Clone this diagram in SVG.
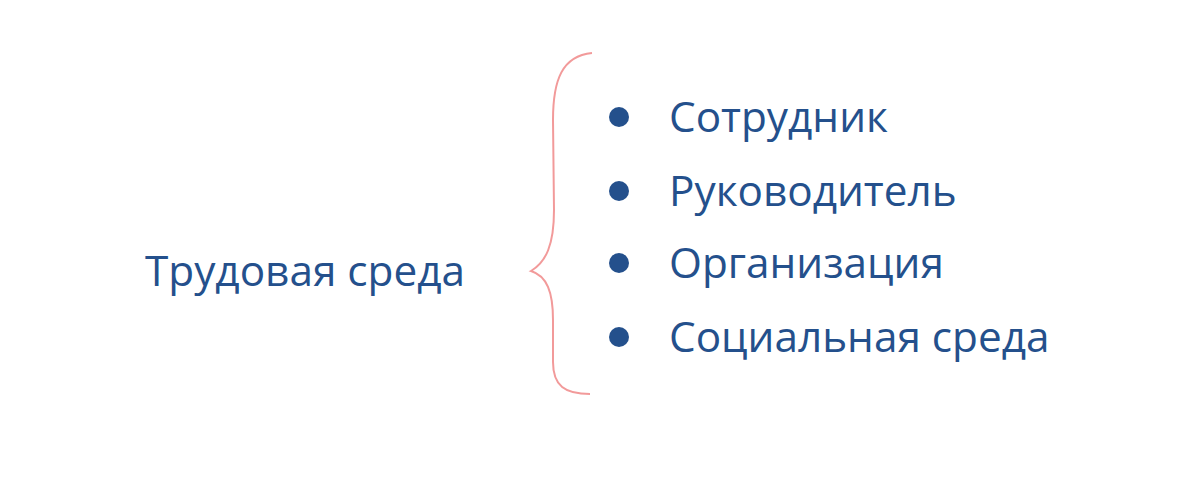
<svg xmlns="http://www.w3.org/2000/svg" width="1200" height="484" viewBox="0 0 1200 484">
<style>
  text { font-family: "Open Sans", "Noto Sans", sans-serif; font-size: 42.3px; fill: #24508c; }
  .dot { fill: #24508c; }
  .brace { fill: none; stroke: #f29a9a; stroke-width: 2; }
</style>
<rect width="1200" height="484" fill="#ffffff"/>
<g id="root">
  <text x="145" y="286">Трудовая среда</text>
</g>
<g id="connectors">
  <path class="brace" d="M592,53 C562,56 553,80 553,120 L554,210 C554,245 546,262 531,271 C547,276 553,292 553,320 L553,362 C553,386 565,394 590,394"/>
</g>
<g id="item1">
  <circle class="dot" cx="619" cy="117" r="10"/>
  <text x="669" y="132">Сотрудник</text>
</g>
<g id="item2">
  <circle class="dot" cx="619" cy="191" r="10"/>
  <text x="669" y="206">Руководитель</text>
</g>
<g id="item3">
  <circle class="dot" cx="619" cy="263" r="10"/>
  <text x="669" y="278">Организация</text>
</g>
<g id="item4">
  <circle class="dot" cx="619" cy="337" r="10"/>
  <text x="669" y="352">Социальная среда</text>
</g>
</svg>
